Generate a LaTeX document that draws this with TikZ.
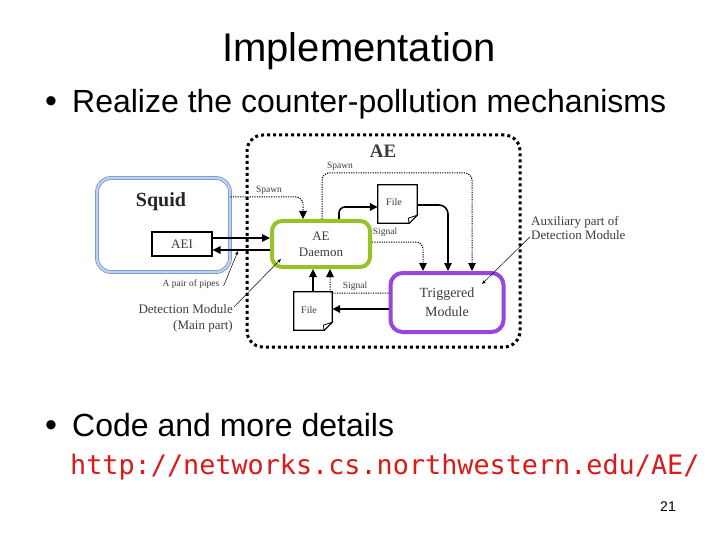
\documentclass[tikz,border=0pt]{standalone}
\usepackage{fontspec}
\setmainfont{Liberation Sans}
\newfontfamily\dserif{Liberation Serif}
\newfontfamily\urlfont{DejaVu Sans Mono}
\usetikzlibrary{arrows.meta,calc}
\definecolor{sqdark}{RGB}{120,150,200}
\definecolor{sqlight}{RGB}{190,210,240}
\definecolor{dgreen}{RGB}{150,195,40}
\definecolor{tpurple}{RGB}{150,70,225}
\definecolor{urlred}{RGB}{220,25,25}
\definecolor{dtext}{RGB}{60,60,60}
\tikzset{
  fs/.style={font=\fontsize{#1}{#1}\selectfont},
  dlabel/.style={font=\dserif\fontsize{9.5}{10}\selectfont, text=dtext, inner sep=0pt},
  boxtext/.style={font=\dserif\fontsize{13}{16}\selectfont, text=dtext, align=center, inner sep=0pt},
  plainbox/.style={draw, line width=1.2pt, inner sep=0pt},
  filebox/.style={inner sep=0pt, minimum width=38pt, minimum height=38pt},
  solidarrow/.style={line width=1.6pt, -{Triangle[length=8pt,width=7.5pt]}},
  dotarrow/.style={line width=1pt, dash pattern=on 1.2pt off 1.2pt, -{Triangle[length=8pt,width=7.5pt]}},
  annot/.style={line width=0.5pt, -{Stealth[length=4pt,width=3pt]}},
}
\begin{document}
\begin{tikzpicture}[x=1pt,y=-1pt]
\useasboundingbox[fill=white] (0,0) rectangle (720,540);

% slide texts
\node[fs=40, anchor=base, inner sep=0pt] (title) at (359,62) {Implementation};
\node[fs=34, anchor=base, inner sep=0pt] (b1) at (51,113) {•};
\node[fs=32, anchor=base west, inner sep=0pt] (t1) at (72,113) {Realize the counter-pollution mechanisms};
\node[fs=34, anchor=base, inner sep=0pt] (b2) at (51,436) {•};
\node[fs=32, anchor=base west, inner sep=0pt] (t2) at (72,436) {Code and more details};
\node[font=\urlfont\fontsize{26.8}{28}\selectfont, text=urlred, anchor=base west, inner sep=0pt] (url) at (70,474) {http://networks.cs.northwestern.edu/AE/};
\node[fs=14, anchor=base, inner sep=0pt] (pg) at (668,511) {21};

% outer AE frame
\node[draw, line width=3pt, dash pattern=on 3pt off 3pt, rounded corners=16pt,
      minimum width=273pt, minimum height=212pt] (ae) at (383.5,241) {};
\node[font=\dserif\bfseries\fontsize{19}{20}\selectfont, text=dtext, inner sep=0pt] (aelbl) at (383,151) {AE};

% Squid
\node[draw=sqdark, double=sqlight, double distance=2.2pt, line width=0.8pt, rounded corners=14pt,
      minimum width=133pt, minimum height=94pt] (squid) at (163.5,225) {};
\node[font=\dserif\bfseries\fontsize{20}{22}\selectfont, text=black!85, inner sep=0pt] (squidlbl) at (161,202) {Squid};
\node[plainbox, minimum width=60pt, minimum height=24pt, font=\dserif\fontsize{13}{14}\selectfont, text=dtext] (aei) at (182,244) {AEI};

% AE Daemon
\node[draw=dgreen, line width=4pt, rounded corners=10pt, minimum width=98pt, minimum height=46pt,
      boxtext] (daemon) at (321,244) {AE\\Daemon};

% Triggered module
\node[draw=tpurple, line width=4pt, rounded corners=12pt, minimum width=113pt, minimum height=59pt,
      font=\dserif\fontsize{14}{19}\selectfont, text=dtext, align=center] (trig) at (447,302.5) {Triggered\\Module};

% File boxes
\node[filebox, minimum width=39pt] (file1) at (397.5,204) {};
\node[filebox] (file2) at (313,311) {};
\foreach \f in {file1,file2}{
  \draw[line width=1.2pt, fill=white] (\f.north west) -- (\f.north east) -- ([yshift=8pt]\f.south east)
        -- ([xshift=-8pt]\f.south east) -- (\f.south west) -- cycle;
  \draw[line width=0.8pt, fill=white] ([yshift=8pt]\f.south east) -- ([xshift=-9pt,yshift=5pt]\f.south east)
        -- ([xshift=-8pt]\f.south east) -- cycle;
}
\node[font=\dserif\fontsize{10}{10}\selectfont, text=dtext, inner sep=0pt] (file1lbl) at (394,202) {File};
\node[font=\dserif\fontsize{10}{10}\selectfont, text=dtext, inner sep=0pt] (file2lbl) at (309,310) {File};

% pipes between AEI and daemon
\draw[solidarrow] ([yshift=6pt]aei.east) -- ([yshift=6pt]daemon.west);
\draw[solidarrow] ([yshift=-6pt]daemon.west) -- ([yshift=-6pt]aei.east);

% spawn from squid
\draw[dotarrow, rounded corners=7pt] ([yshift=28pt]squid.east) -| ([xshift=-18pt]daemon.north);
\node[dlabel] (sp1) at (269,190) {Spawn};

% spawn to triggered
\draw[dotarrow, rounded corners=7pt] ([xshift=1pt]daemon.north) -- ++(0,-46) -| ([xshift=25pt]trig.north);
\node[dlabel] (sp2) at (340,166) {Spawn};

% daemon -> file1
\draw[solidarrow, rounded corners=6pt] ([xshift=18pt]daemon.north) |- ([yshift=-3pt]file1.west);

% file1 -> triggered
\draw[solidarrow, rounded corners=9pt] ([yshift=-1pt]file1.east) -| ([xshift=1pt]trig.north);

% signal daemon -> triggered
\draw[dotarrow, rounded corners=7pt] ([yshift=2pt]daemon.east) -| ([xshift=-24pt]trig.north);
\node[dlabel] (sg1) at (385,232) {Signal};

% file2 -> daemon
\draw[solidarrow] (file2.north) -- (file2.north |- daemon.south);

% signal triggered -> daemon
\draw[dotarrow, rounded corners=3pt] ([yshift=9.5pt]trig.west) -| ([xshift=9pt]daemon.south);
\node[dlabel] (sg2) at (355,286) {Signal};

% triggered -> file2
\draw[solidarrow] ([yshift=-6.5pt]trig.west) -- ([yshift=-6.5pt]trig.west -| file2.east);

% annotations
\node[dlabel] (pipes) at (191,284) {A pair of pipes};
\coordinate (pipetip) at (238,251);
\draw[annot] ([xshift=4pt,yshift=-2pt]pipes.east) -- (pipetip);

\node[font=\dserif\fontsize{13}{16}\selectfont, text=dtext, align=right, anchor=east, inner sep=0pt] (detm) at (233,318) {Detection Module\\(Main part)};
\coordinate (dettip) at (281,259);
\draw[annot] ([xshift=1pt,yshift=-3pt]detm.north east) -- (dettip);

\node[font=\dserif\fontsize{13}{14}\selectfont, text=dtext, align=left, anchor=west, inner sep=0pt] (aux) at (531,228) {Auxiliary part of\\Detection Module};
\coordinate (auxtip) at (482,284);
\draw[annot] ([xshift=-1pt,yshift=3pt]aux.south west) -- (auxtip);
\end{tikzpicture}
\end{document}
